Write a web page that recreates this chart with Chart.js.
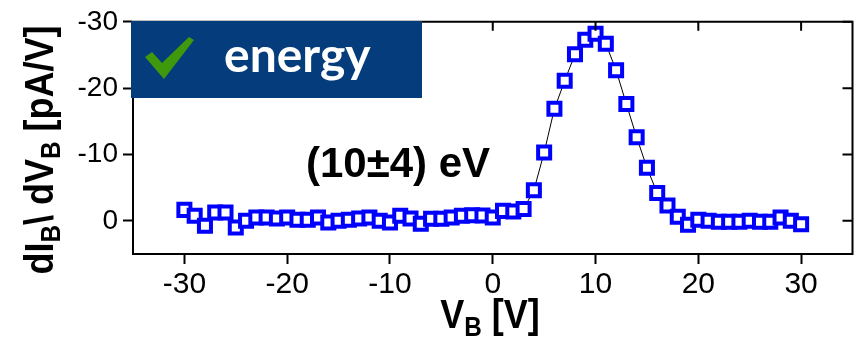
<!DOCTYPE html>
<html>
<head>
<meta charset="utf-8">
<script src="https://cdn.jsdelivr.net/npm/chart.js@4.4.0/dist/chart.umd.min.js"></script>
<style>
  html, body { margin: 0; padding: 0; background: #fff; }
  #wrap { width: 865px; height: 338px; }
</style>
</head>
<body>
<div id="wrap"><canvas id="chart" width="865" height="338"></canvas></div>
<script>
// bias voltage V_B [V]
const voltages = [-30, -29, -28, -27, -26, -25, -24, -23, -22, -21,
                  -20, -19, -18, -17, -16, -15, -14, -13, -12, -11,
                  -10, -9, -8, -7, -6, -5, -4, -3, -2, -1,
                  0, 1, 2, 3, 4, 5, 6, 7, 8, 9,
                  10, 11, 12, 13, 14, 15, 16, 17, 18, 19,
                  20, 21, 22, 23, 24, 25, 26, 27, 28, 29, 30];
// dI_B / dV_B [pA/V]
const didv = [-1.65, -0.75, 0.75, -1.25, -1.25, 1.0, 0.0, -0.5, -0.5, -0.35,
              -0.5, -0.15, -0.15, -0.5, 0.25, 0.0, -0.15, -0.35, -0.5, 0.0,
              0.25, -0.75, -0.35, 0.45, -0.3, -0.3, -0.5, -0.75, -0.85, -0.8,
              -0.5, -1.5, -1.4, -1.8, -4.6, -10.3, -16.9, -21.1, -25.1, -27.3,
              -28.2, -26.7, -22.7, -17.6, -12.6, -8.0, -4.2, -2.3, -0.6, 0.6,
              -0.15, 0.0, 0.15, 0.15, 0.15, 0.0, 0.15, 0.15, -0.5, 0.0, 0.5];
const xTicks = [-30, -20, -10, 0, 10, 20, 30];
const yTicks = [-30, -20, -10, 0];

const sansFont = "'Liberation Sans', Arial, sans-serif";

// draw text made of normal and subscript parts, centred on x
function drawRich(ctx, parts, size, subSize, subShift, sx) {
    let total = 0;
    parts.forEach(p => {
        ctx.font = 'bold ' + (p.sub ? subSize : size) + 'px ' + sansFont;
        p.w = ctx.measureText(p.t).width;
        total += p.w;
    });
    ctx.save();
    ctx.scale(sx, 1);
    let x = -total / 2;
    parts.forEach(p => {
        ctx.font = 'bold ' + (p.sub ? subSize : size) + 'px ' + sansFont;
        ctx.fillText(p.t, x, p.sub ? subShift : 0);
        x += p.w;
    });
    ctx.restore();
}

const decorations = {
    id: 'decorations',
    afterDraw(chart) {
        const ctx = chart.ctx;
        const area = chart.chartArea;
        const xs = chart.scales.x;
        const ys = chart.scales.y;

        // top and right frame with inward ticks
        ctx.save();
        ctx.strokeStyle = '#000';
        ctx.lineWidth = 2;
        ctx.beginPath();
        ctx.moveTo(area.left - 1, area.top);
        ctx.lineTo(area.right, area.top);
        ctx.lineTo(area.right, area.bottom + 1);
        ctx.stroke();
        ctx.beginPath();
        xTicks.forEach(v => {
            const px = xs.getPixelForValue(v);
            ctx.moveTo(px, area.top);
            ctx.lineTo(px, area.top + 9);
        });
        yTicks.forEach(v => {
            const py = ys.getPixelForValue(v);
            ctx.moveTo(area.right, py);
            ctx.lineTo(area.right - 10, py);
        });
        ctx.stroke();
        ctx.restore();

        // "energy" badge
        ctx.save();
        ctx.fillStyle = '#043c7c';
        ctx.fillRect(131, 21, 291, 77);
        ctx.fillStyle = '#3f990c';
        ctx.beginPath();
        ctx.moveTo(145, 57);
        ctx.lineTo(152, 52);
        ctx.lineTo(162, 63);
        ctx.lineTo(189, 37);
        ctx.lineTo(194, 40);
        ctx.lineTo(164, 79);
        ctx.closePath();
        ctx.fill();
        ctx.fillStyle = '#fff';
        ctx.font = "bold 48px Lato, 'Open Sans', sans-serif";
        ctx.textBaseline = 'alphabetic';
        ctx.textAlign = 'left';
        ctx.fillText('energy', 224, 72);
        ctx.restore();

        // peak energy annotation
        ctx.save();
        ctx.fillStyle = '#000';
        ctx.font = 'bold 42px ' + sansFont;
        ctx.textAlign = 'center';
        ctx.fillText('(10\u00b14) eV', 398, 177);
        ctx.restore();

        // axis titles
        ctx.save();
        ctx.fillStyle = '#000';
        ctx.textAlign = 'left';
        ctx.translate(53, 150);
        ctx.rotate(-Math.PI / 2);
        drawRich(ctx, [
            {t: 'dI'}, {t: 'B', sub: true}, {t: '\\ dV'}, {t: 'B', sub: true}, {t: ' [pA/V]'}
        ], 40, 27, 7, 0.9);
        ctx.restore();

        ctx.save();
        ctx.fillStyle = '#000';
        ctx.textAlign = 'left';
        ctx.translate(490, 328);
        drawRich(ctx, [
            {t: 'V'}, {t: 'B', sub: true}, {t: ' [V]'}
        ], 40, 27, 8, 0.9);
        ctx.restore();
    }
};

const points = voltages.map((v, i) => ({x: v, y: didv[i]}));

new Chart(document.getElementById('chart').getContext('2d'), {
    type: 'line',
    data: {
        datasets: [{
            data: points,
            borderColor: '#000',
            borderWidth: 1,
            tension: 0,
            pointStyle: 'rect',
            pointRadius: 8.5,
            pointBorderWidth: 4,
            pointBorderColor: '#0000ff',
            pointBackgroundColor: '#fff',
            clip: false
        }]
    },
    options: {
        responsive: false,
        animation: false,
        events: [],
        layout: {
            padding: {top: 20, right: 12, left: 0, bottom: 0}
        },
        plugins: {
            legend: {display: false},
            tooltip: {enabled: false}
        },
        scales: {
            x: {
                type: 'linear',
                min: -35,
                max: 35,
                afterBuildTicks: s => { s.ticks = xTicks.map(v => ({value: v})); },
                afterFit: s => { s.height = 84; },
                grid: {
                    drawOnChartArea: false,
                    tickLength: 10,
                    tickWidth: 2,
                    color: '#000'
                },
                border: {display: true, color: '#000', width: 2},
                ticks: {
                    color: '#000',
                    padding: 3,
                    maxRotation: 0,
                    font: {family: sansFont, size: 30}
                }
            },
            y: {
                type: 'linear',
                reverse: true,
                min: -30,
                max: 5,
                afterBuildTicks: s => { s.ticks = yTicks.map(v => ({value: v})); },
                afterFit: s => { s.width = 133; },
                grid: {
                    drawOnChartArea: false,
                    tickLength: 10,
                    tickWidth: 2,
                    color: '#000'
                },
                border: {display: true, color: '#000', width: 2},
                ticks: {
                    color: '#000',
                    padding: 5,
                    font: {family: sansFont, size: 28}
                }
            }
        }
    },
    plugins: [decorations]
});
</script>
</body>
</html>
